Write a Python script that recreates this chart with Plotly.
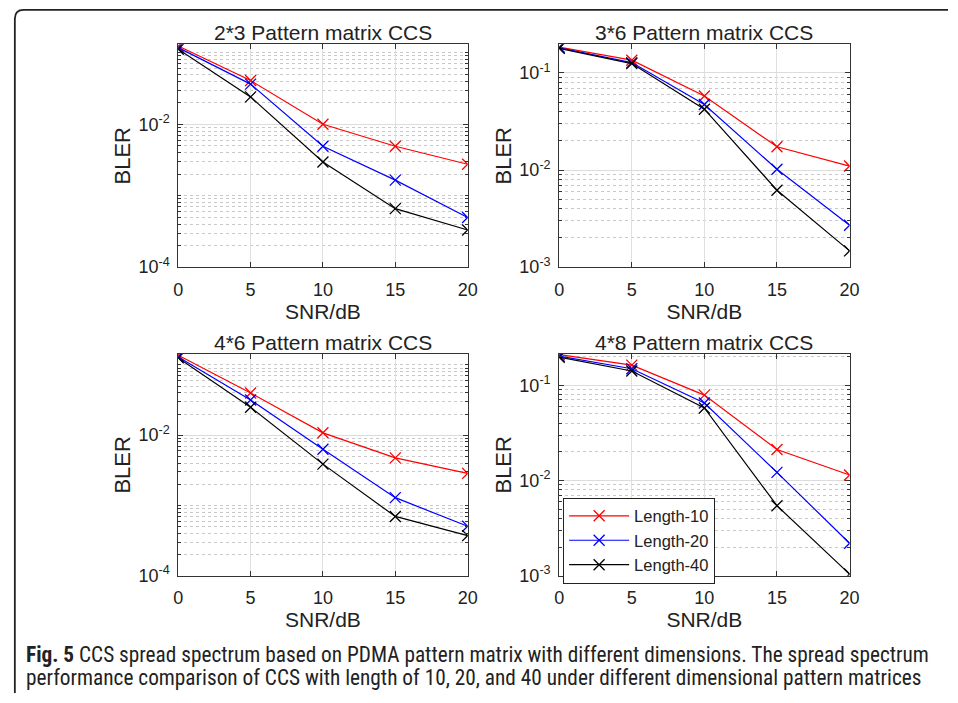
import numpy as np
import plotly.graph_objects as go

W, H = 958, 703

snr = [0, 5, 10, 15, 20]
series_names = ["Length-10", "Length-20", "Length-40"]
series_colors = ["#ff0000", "#0000ff", "#000000"]

titles = ["2*3 Pattern matrix CCS", "3*6 Pattern matrix CCS",
          "4*6 Pattern matrix CCS", "4*8 Pattern matrix CCS"]

bler_2x3_len10 = [0.124, 0.0408, 0.0100, 0.00492, 0.00275]
bler_2x3_len20 = [0.118, 0.0364, 0.00492, 0.00165, 0.000494]
bler_2x3_len40 = [0.112, 0.0241, 0.00296, 0.000658, 0.000331]

bler_3x6_len10 = [0.185, 0.1355, 0.058, 0.0174, 0.0110]
bler_3x6_len20 = [0.182, 0.128, 0.0473, 0.0102, 0.0027]
bler_3x6_len40 = [0.1795, 0.125, 0.0424, 0.0062, 0.00147]

bler_4x6_len10 = [0.1374, 0.0398, 0.0108, 0.00475, 0.00286]
bler_4x6_len20 = [0.130, 0.0317, 0.0063, 0.00129, 0.000505]
bler_4x6_len40 = [0.126, 0.0250, 0.00387, 0.000697, 0.000372]

bler_4x8_len10 = [0.210, 0.1626, 0.0787, 0.0211, 0.0114]
bler_4x8_len20 = [0.2018, 0.149, 0.065, 0.01216, 0.00219]
bler_4x8_len40 = [0.197, 0.141, 0.0577, 0.00543, 0.00104]

panels = [
    [bler_2x3_len10, bler_2x3_len20, bler_2x3_len40],
    [bler_3x6_len10, bler_3x6_len20, bler_3x6_len40],
    [bler_4x6_len10, bler_4x6_len20, bler_4x6_len40],
    [bler_4x8_len10, bler_4x8_len20, bler_4x8_len40],
]

# y ranges (log10) and labeled decades per panel
y_ranges = [[-4, -0.883], [-3, -0.705], [-4, -0.843], [-3, -0.671]]
y_major = [[-4, -2], [-3, -2, -1], [-4, -2], [-3, -2, -1]]

# panel boxes in pixels: (left, right, top, bottom)
boxes = [(176, 470, 45, 271), (563, 858, 45, 271),
         (176, 470, 359, 584), (563, 858, 359, 584)]

FONT = "Liberation Sans"
TXT = "#222222"

fig = go.Figure()
layout = {}
for i, (box, data) in enumerate(zip(boxes, panels)):
    n = "" if i == 0 else str(i + 1)
    xa, ya = "x" + n, "y" + n
    l, r, t, b = box
    for j, (vals, name, col) in enumerate(zip(data, series_names, series_colors)):
        fig.add_trace(go.Scatter(
            x=snr, y=vals, mode="lines+markers", name=name,
            xaxis=xa, yaxis=ya,
            line=dict(color=col, width=1.2),
            marker=dict(symbol="x-thin", size=11, line=dict(width=1.3, color=col)),
            showlegend=(i == 3), legendgroup=name,
        ))
    lo, hi = y_ranges[i]
    majors = y_major[i]
    minors = []
    for d in range(int(np.floor(lo)), int(np.ceil(hi)) + 1):
        for m in range(1, 10):
            v = m * 10.0 ** d
            if lo - 1e-9 <= np.log10(v) <= hi + 1e-9 and not (m == 1 and d in majors):
                minors.append(v)
    layout["xaxis" + n] = dict(
        domain=[l / W, r / W], anchor=ya, range=[0, 20],
        tickvals=[0, 5, 10, 15, 20], ticks="inside", ticklen=5, tickcolor="#333",
        showline=True, linecolor="#333", linewidth=1, mirror="ticks",
        showgrid=True, gridcolor="#e0e0e0", gridwidth=1, zeroline=False,
        tickfont=dict(family=FONT, size=18, color=TXT), ticklabelstandoff=6,
        title=dict(text="SNR/dB", font=dict(family=FONT, size=21, color=TXT), standoff=2),
    )
    layout["yaxis" + n] = dict(
        domain=[1 - b / H, 1 - t / H], anchor=xa, type="log", range=[lo, hi],
        tickvals=[10.0 ** d for d in majors],
        ticktext=["10<sup>%d</sup>" % d for d in majors],
        ticks="inside", ticklen=5, tickcolor="#333",
        showline=True, linecolor="#333", linewidth=1, mirror="ticks",
        showgrid=True, gridcolor="#dcdcdc", gridwidth=1, zeroline=False,
        minor=dict(tickvals=minors, ticks="inside", ticklen=3, tickcolor="#333",
                   showgrid=True, gridcolor="#c8c8c8", griddash="dot", gridwidth=1),
        tickfont=dict(family=FONT, size=18, color=TXT), ticklabelstandoff=4,
        title=dict(text="BLER", font=dict(family=FONT, size=22, color=TXT), standoff=1),
    )

annotations = []
for i, box in enumerate(boxes):
    l, r, t, b = box
    annotations.append(dict(
        text=titles[i], x=(l + r) / 2 / W, y=1 - (t - 12) / H, xref="paper", yref="paper",
        xanchor="center", yanchor="middle", showarrow=False,
        font=dict(family=FONT, size=21, color=TXT)))

cap_font = "Roboto Condensed, Liberation Sans Narrow, Lato"
annotations.append(dict(
    text="<b>Fig. 5</b> CCS spread spectrum based on PDMA pattern matrix with different dimensions. The spread spectrum",
    x=19 / W, y=1 - 664 / H, xref="paper", yref="paper", xanchor="left", yanchor="middle",
    showarrow=False, font=dict(family=cap_font, size=21.3, color=TXT)))
annotations.append(dict(
    text="performance comparison of CCS with length of 10, 20, and 40 under different dimensional pattern matrices",
    x=19 / W, y=1 - 687 / H, xref="paper", yref="paper", xanchor="left", yanchor="middle",
    showarrow=False, font=dict(family=cap_font, size=21.3, color=TXT)))

def px(x, y):
    return "%f %f" % (x / W, 1 - y / H)

border_path = "M %s L %s Q %s %s L %s" % (px(10, 703), px(10, 19), px(10, 10), px(19, 10), px(958, 10))

fig.update_layout(
    width=W, height=H, autosize=False,
    margin=dict(l=0, r=0, t=0, b=0),
    paper_bgcolor="white", plot_bgcolor="white",
    annotations=annotations,
    shapes=[dict(type="path", path=border_path, xref="paper", yref="paper",
                 line=dict(color="#222", width=1.8))],
    legend=dict(x=567 / W, y=1 - 592 / H, xanchor="left", yanchor="bottom",
                bgcolor="white", bordercolor="#222", borderwidth=1, itemwidth=60,
                font=dict(family=FONT, size=16.5, color=TXT), tracegroupgap=0),
    **layout,
)

fig.write_html("out.html")
